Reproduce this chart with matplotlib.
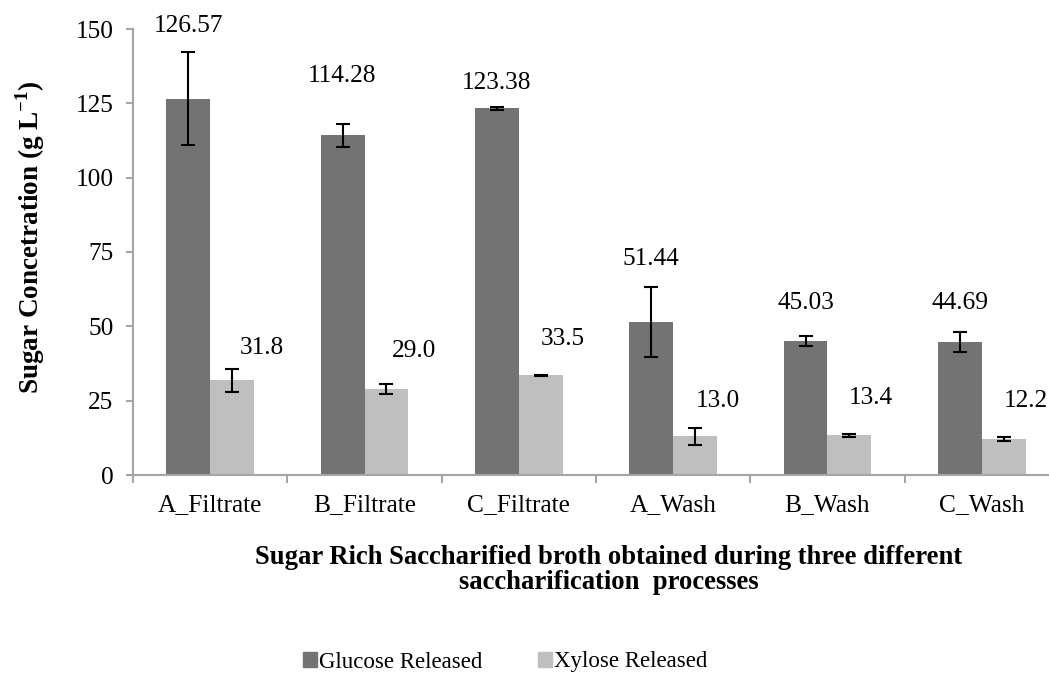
import numpy as np
import matplotlib
matplotlib.use("Agg")
import matplotlib.pyplot as plt
from matplotlib.patches import Patch

# data
categories = ["A_Filtrate", "B_Filtrate", "C_Filtrate", "A_Wash", "B_Wash", "C_Wash"]
glucose = [126.57, 114.28, 123.38, 51.44, 45.03, 44.69]
glucose_err = [15.7, 3.9, 0.5, 11.9, 1.7, 3.3]
xylose = [31.8, 29.0, 33.5, 13.0, 13.4, 12.2]
xylose_err = [4.0, 1.6, 0.3, 2.8, 0.5, 0.6]
glucose_text = ["126.57", "114.28", "123.38", "51.44", "45.03", "44.69"]
xylose_text = ["31.8", "29.0", "33.5", "13.0", "13.4", "12.2"]

# label placement (gap above error bar in data units, sideways shift for xylose)
glu_pad = [8.6, 16.0, 8.0, 9.4, 11.0, 10.0]
xyl_pad = [7.0, 11.0, 12.0, 9.0, 12.0, 12.0]
xyl_dx = [0.19, 0.18, 0.14, 0.15, 0.14, 0.145]

plt.rcParams["font.family"] = ["Liberation Serif", "DejaVu Serif"]
plt.rcParams["mathtext.fontset"] = "custom"
plt.rcParams["mathtext.rm"] = "Liberation Serif"
plt.rcParams["mathtext.bf"] = "Liberation Serif:bold"

fig = plt.figure(figsize=(10.49, 6.73), dpi=100)
ax = fig.add_axes([133 / 1049, 1 - 475 / 673, (1059 - 133) / 1049, (475 - 29) / 673])

x = np.arange(len(categories))
w = 0.285
glu_color = "#737373"
xyl_color = "#bfbfbf"
axis_color = "#a6a6a6"
fs = 18.3

ax.bar(x - w / 2, glucose, w, color=glu_color, yerr=glucose_err,
       error_kw=dict(ecolor="black", elinewidth=1.5, capsize=4.7, capthick=1.5))
ax.bar(x + w / 2, xylose, w, color=xyl_color, yerr=xylose_err,
       error_kw=dict(ecolor="black", elinewidth=1.5, capsize=4.7, capthick=1.5))

for i in range(len(categories)):
    ax.text(x[i] - w / 2, glucose[i] + glucose_err[i] + glu_pad[i], glucose_text[i],
            ha="center", va="center", fontsize=fs)
    ax.text(x[i] + w / 2 + xyl_dx[i], xylose[i] + xylose_err[i] + xyl_pad[i], xylose_text[i],
            ha="center", va="center", fontsize=fs)

ax.set_xlim(-0.5, len(categories) - 0.5)
ax.set_ylim(0, 150)
ax.set_yticks([0, 25, 50, 75, 100, 125, 150])

# ticks at category boundaries, labels at centres
ax.set_xticks(np.arange(-0.5, len(categories), 1.0))
ax.set_xticklabels([])
ax.set_xticks(x, minor=True)
ax.set_xticklabels(categories, minor=True)
ax.tick_params(axis="x", which="minor", length=0, pad=14, labelsize=fs)
ax.tick_params(axis="x", which="major", length=6, width=1.5, color=axis_color)
ax.tick_params(axis="y", length=5, width=1.5, color=axis_color, pad=9, labelsize=fs)

for s in ["top", "right"]:
    ax.spines[s].set_visible(False)
for s in ["left", "bottom"]:
    ax.spines[s].set_color(axis_color)
    ax.spines[s].set_linewidth(1.5)

fig.text(30 / 1049, 1 - 237 / 673, r"Sugar Concetration (g L$^{\mathbf{-1}}$)",
         rotation=90, ha="center", va="center", fontsize=19.5, fontweight="bold")

fig.text(609 / 1049, 1 - 570 / 673,
         "Sugar Rich Saccharified broth obtained during three different\nsaccharification  processes",
         ha="center", va="center", multialignment="center", fontsize=19.2,
         fontweight="bold", linespacing=1.0)

handles = [Patch(color=glu_color, label="Glucose Released"),
           Patch(color=xyl_color, label="Xylose Released")]
fig.legend(handles=handles, loc="center", bbox_to_anchor=(505 / 1049, 1 - 662 / 673),
           ncol=2, frameon=False, fontsize=16.5, handlelength=0.62, handleheight=0.62,
           handletextpad=0.1, columnspacing=2.4, borderpad=0)

fig.savefig("out.png", dpi=100)
